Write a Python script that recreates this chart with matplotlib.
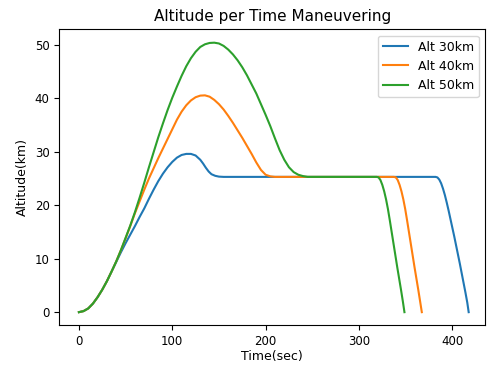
import matplotlib
matplotlib.use("Agg")
from matplotlib import pyplot as plt

# values (time in sec, altitude in km)
t_30 = [0, 5, 10, 15, 20, 25, 30, 35, 40, 45, 50, 55, 60, 65, 70, 75, 80, 85, 90, 95, 100,
        105, 110, 115, 120, 125, 130, 133, 136, 139, 142, 146, 150, 155, 200, 300, 382, 384,
        386, 388, 390, 392, 394, 396, 398, 400, 402, 404, 406, 408, 410, 412, 414, 416, 417.5]
alt_30 = [0, 0.2, 0.7, 1.6, 2.8, 4.2, 5.8, 7.6, 9.4, 11.2, 12.9, 14.5, 16.1, 17.8, 19.4, 21.2,
          22.9, 24.5, 25.9, 27.1, 28.1, 28.9, 29.4, 29.6, 29.6, 29.3, 28.5, 27.8, 27.0, 26.3,
          25.8, 25.5, 25.35, 25.3, 25.3, 25.3, 25.3, 25.2, 24.8, 24.1, 23.1, 21.9, 20.5, 19.0,
          17.4, 15.8, 14.2, 12.5, 10.8, 9.1, 7.3, 5.5, 3.7, 1.8, 0]

t_40 = [0, 5, 10, 15, 20, 25, 30, 35, 40, 45, 50, 55, 60, 65, 70, 75, 80, 85, 90, 95, 100,
        105, 110, 115, 120, 125, 130, 135, 140, 145, 150, 155, 160, 165, 170, 175, 180, 185,
        190, 195, 200, 205, 210, 250, 300, 337.5, 339.5, 341.5, 343.5, 345.5, 347.5, 349.5,
        351.5, 353.5, 355.5, 357.5, 359.5, 361.5, 363.5, 365.5, 367.3]
alt_40 = [0, 0.2, 0.7, 1.6, 2.8, 4.2, 5.8, 7.6, 9.5, 11.6, 13.8, 16.1, 18.5, 20.7, 22.9, 25.0,
          26.9, 28.8, 30.6, 32.4, 34.2, 36.0, 37.5, 38.7, 39.6, 40.2, 40.5, 40.55, 40.3, 39.7,
          38.9, 37.9, 36.7, 35.4, 34.0, 32.6, 31.1, 29.6, 28.0, 26.6, 25.7, 25.4, 25.3, 25.3,
          25.3, 25.3, 25.2, 24.7, 23.8, 22.6, 21.1, 19.3, 17.2, 15.0, 12.8, 10.6, 8.4, 6.3,
          4.2, 2.0, 0]

t_50 = [0, 5, 10, 15, 20, 25, 30, 35, 40, 45, 50, 55, 60, 65, 70, 75, 80, 85, 90, 95, 100,
        105, 110, 115, 120, 125, 130, 135, 140, 145, 150, 155, 160, 165, 170, 175, 180, 185,
        190, 195, 200, 205, 210, 215, 220, 225, 230, 235, 240, 245, 300, 319, 321, 323, 325,
        327, 329, 331, 333, 335, 337, 339, 341, 343, 345, 347, 348.7]
alt_50 = [0, 0.2, 0.7, 1.6, 2.8, 4.2, 5.8, 7.6, 9.5, 11.6, 13.9, 16.2, 18.7, 21.4, 24.2, 27.1,
          29.9, 32.7, 35.3, 37.8, 40.1, 42.2, 44.2, 46.0, 47.5, 48.7, 49.6, 50.1, 50.35, 50.4,
          50.25, 49.8, 49.1, 48.2, 47.1, 45.8, 44.3, 42.6, 40.9, 38.9, 36.9, 34.8, 32.5, 30.3,
          28.5, 27.1, 26.2, 25.7, 25.45, 25.3, 25.3, 25.3, 25.2, 24.7, 23.8, 22.6, 21.1, 19.3,
          17.2, 15.0, 12.8, 10.6, 8.4, 6.3, 4.2, 2.0, 0]

labels = ["Alt 30km", "Alt 40km", "Alt 50km"]

fig = plt.figure(figsize=(4.93, 3.73), dpi=100)
ax = fig.add_axes([0.1203, 0.1287, 0.8635, 0.7927])

ax.plot(t_30, alt_30, label=labels[0])
ax.plot(t_40, alt_40, label=labels[1])
ax.plot(t_50, alt_50, label=labels[2])

ax.set_xlim(-21, 435)
ax.set_ylim(-2.4, 52.9)
ax.set_title("Altitude per Time Maneuvering", fontsize=11)
ax.set_xlabel("Time(sec)", fontsize=9, labelpad=2)
ax.set_ylabel("Altitude(km)", fontsize=9)
ax.tick_params(labelsize=8.5)
ax.legend(loc="upper right", fontsize=9)

fig.savefig("out.png", dpi=100)
